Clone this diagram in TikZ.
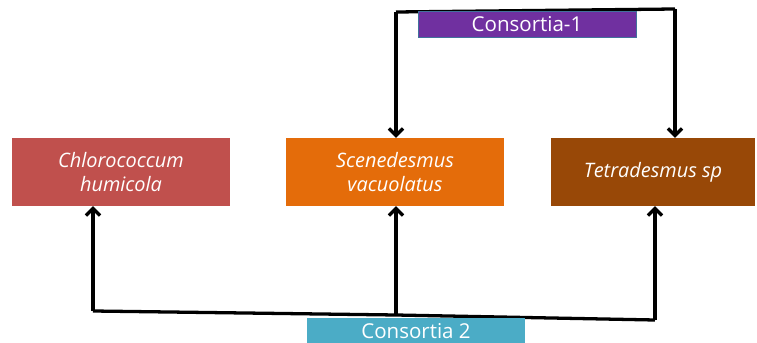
\documentclass[tikz,border=0pt]{standalone}
\usepackage{fontspec}
\setmainfont{Open Sans}
\usetikzlibrary{arrows.meta,backgrounds}

\definecolor{chlorored}{HTML}{C0504D}
\definecolor{sceneorange}{HTML}{E46C0A}
\definecolor{tetrabrown}{HTML}{984807}
\definecolor{consviolet}{HTML}{7030A0}
\definecolor{consblue}{HTML}{4BACC6}
\definecolor{consedge}{HTML}{41719C}

\tikzset{
  algabox/.style={minimum width=6.54cm,minimum height=2.04cm,inner sep=0pt,
    text=white,font=\fontsize{17}{21}\selectfont\itshape,align=center},
  consbox/.style={minimum width=6.54cm,minimum height=0.76cm,inner sep=0pt,
    text=white,font=\fontsize{17.5}{20}\selectfont},
  link/.style={line width=2.8pt,black},
  arr/.style={link,-{Straight Barb[length=6pt,width=12pt]}}
}

\begin{document}
\begin{tikzpicture}[x=0.03cm,y=-0.03cm]
\useasboundingbox (0,0) rectangle (757,343);
% species boxes
\node[algabox,fill=chlorored] (chloro) at (121,172) {Chlorococcum\\humicola};
\node[algabox,fill=sceneorange] (scene) at (395,172) {Scenedesmus\\vacuolatus};
\node[algabox,fill=tetrabrown,minimum width=6.12cm] (tetra) at (653,172) {Tetradesmus sp};
% consortia labels
\node[consbox,fill=consviolet,draw=consedge,line width=0.6pt] (cons1) at (527,24.5) {Consortia-1};
\node[consbox,fill=consblue] (cons2) at (416,331) {Consortia 2};
% connectors
\coordinate (t1) at (396,12);
\coordinate (t2) at (675,9);
\coordinate (b1) at (93,311);
\coordinate (b2) at (396,315);
\coordinate (b3) at (655,320);
\begin{scope}[on background layer]
\draw[link] (t1) -- (t2);
\draw[arr] (t1) -- (t1 |- scene.north);
\draw[arr] (t2) -- (t2 |- tetra.north);
\draw[link] (b1) -- (b2) -- (b3);
\draw[arr] (b1) -- (b1 |- chloro.south);
\draw[arr] (b2) -- (b2 |- scene.south);
\draw[arr] (b3) -- (b3 |- tetra.south);
\end{scope}
\end{tikzpicture}
\end{document}
